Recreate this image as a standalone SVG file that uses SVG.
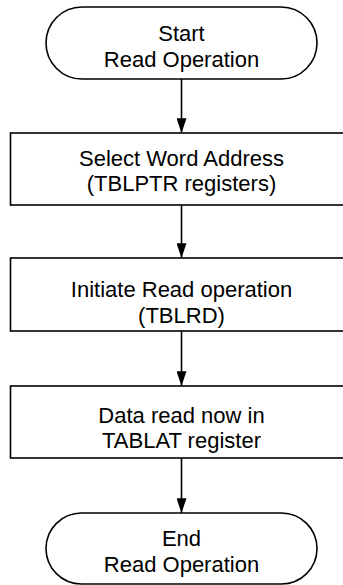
<svg xmlns="http://www.w3.org/2000/svg" width="343" height="585" viewBox="0 0 343 585">
<defs>
<style>
.shape{fill:#fff;stroke:#000;stroke-width:1.6}
.lbl{font-family:"Liberation Sans",Arial,sans-serif;font-size:22px;fill:#000;text-anchor:middle}
.conn{stroke:#000;stroke-width:1.6;fill:none}
</style>
<marker id="arr" markerUnits="userSpaceOnUse" markerWidth="15" markerHeight="10" refX="14" refY="4.75" orient="auto" viewBox="0 0 14 9.5">
<path d="M0,0 L14,4.75 L0,9.5 Z" fill="#000"/>
</marker>
</defs>
<rect width="343" height="585" fill="#fff"/>
<g id="connectors">
<line class="conn" x1="181.5" y1="79" x2="181.5" y2="133" marker-end="url(#arr)"/>
<line class="conn" x1="181.5" y1="205" x2="181.5" y2="258" marker-end="url(#arr)"/>
<line class="conn" x1="181.5" y1="331" x2="181.5" y2="386" marker-end="url(#arr)"/>
<line class="conn" x1="181.5" y1="458" x2="181.5" y2="513" marker-end="url(#arr)"/>
</g>
<g id="start">
<rect class="shape" x="46" y="7" width="271" height="72" rx="36" ry="36"/>
<text class="lbl" x="181.5" y="41">Start</text>
<text class="lbl" x="181.5" y="67">Read Operation</text>
</g>
<g id="select">
<rect class="shape" x="10.5" y="133" width="342" height="72"/>
<text class="lbl" x="181.5" y="166">Select Word Address</text>
<text class="lbl" x="181.5" y="191">(TBLPTR registers)</text>
</g>
<g id="initiate">
<rect class="shape" x="10.5" y="258" width="342" height="73"/>
<text class="lbl" x="181.5" y="297">Initiate Read operation</text>
<text class="lbl" x="181.5" y="323">(TBLRD)</text>
</g>
<g id="data">
<rect class="shape" x="10.5" y="386" width="342" height="72"/>
<text class="lbl" x="181.5" y="423">Data read now in</text>
<text class="lbl" x="181.5" y="448">TABLAT register</text>
</g>
<g id="end">
<rect class="shape" x="46" y="513" width="271" height="71" rx="35.5" ry="35.5"/>
<text class="lbl" x="181.5" y="546">End</text>
<text class="lbl" x="181.5" y="572">Read Operation</text>
</g>
</svg>
